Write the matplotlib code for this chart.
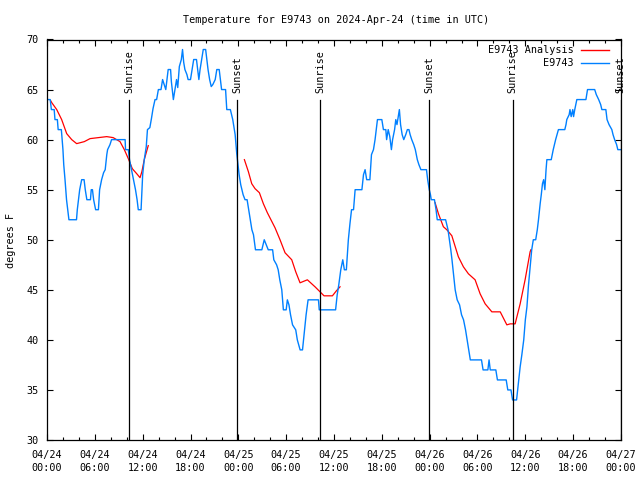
import matplotlib
matplotlib.use("Agg")
import matplotlib.pyplot as plt
import numpy as np

plt.rcParams['font.family'] = ['DejaVu Sans Mono']
FS = 7.3

# hours since 2024-04-24 00:00 UTC
obs_t = [0.0,0.4,0.55,0.9,1.0,1.3,1.4,1.8,1.9,2.0,2.1,2.26,2.45,2.6,2.75,3.7,3.8,3.95,4.1,4.35,4.65,4.8,5.0,5.45,5.55,5.7,5.85,6.1,6.45,6.6,6.85,7.1,7.3,7.5,7.6,7.9,8.1,9.8,9.85,10.2,10.35,10.6,10.85,11.1,11.3,11.45,11.8,12.0,12.2,12.45,12.6,12.9,13.1,13.3,13.55,13.75,13.97,14.3,14.5,14.7,14.9,15.2,15.5,15.6,15.85,16.05,16.25,16.4,16.6,16.85,17.0,17.15,17.3,17.55,17.7,18.0,18.2,18.4,18.75,18.9,19.05,19.2,19.4,19.6,19.9,20.05,20.2,20.4,20.6,20.8,21.1,21.3,21.6,21.75,21.9,22.4,22.55,23.0,23.3,23.6,23.8,23.95,24.1,24.3,24.6,24.84,25.1,25.3,25.5,25.7,25.9,26.15,26.95,27.1,27.25,27.5,27.75,28.3,28.45,28.8,29.0,29.2,29.45,29.65,30.0,30.15,30.35,30.55,30.8,31.2,31.4,31.75,32.05,32.3,32.5,32.75,34.05,34.15,36.2,36.4,36.6,36.85,37.1,37.3,37.55,37.8,38.0,38.2,38.45,38.65,39.5,39.7,39.9,40.1,40.5,40.7,40.95,41.15,41.45,42.0,42.2,42.5,42.6,42.8,43.0,43.2,43.35,43.6,43.75,43.9,44.2,44.35,44.55,44.75,45.0,45.2,45.4,45.55,45.75,46.0,46.2,46.45,46.65,46.9,47.6,47.75,47.95,48.1,48.2,48.6,48.8,48.95,50.0,50.3,50.65,50.8,51.0,51.2,51.45,51.75,52.0,52.25,52.5,52.7,52.9,53.1,54.5,54.7,55.3,55.45,55.6,56.3,56.5,57.6,57.8,58.2,58.3,58.4,58.9,59.1,59.35,59.56,59.8,60.0,60.2,60.4,60.6,60.8,61.0,61.3,61.5,61.65,61.86,62.0,62.15,62.3,62.45,62.6,62.7,63.25,63.5,63.8,64.15,64.95,65.1,65.2,65.5,65.6,65.75,65.95,66.05,66.2,66.46,67.6,67.8,68.7,68.9,69.2,69.45,69.6,70.1,70.25,70.5,70.85,71.0,71.2,71.45,71.6,71.95]
obs_v = [64,64,63,63,62,62,61,61,60,59,57.5,56,54,53,52,52,53,54,55,56,56,55,54,54,55,55,54,53,53,55,56,56.7,57,58.5,59,59.5,60,60,59,59,58,57,56,55,54,53,53,56.5,58,59.3,61,61.2,62.1,63.1,64,64,65,65,66,65.5,65,67,67,65.8,64,65,66,65.2,67.3,68,69,67.7,67,66.5,66,66,67,68,68,67,66,67,68,69,69,68,67,66,65.3,65.5,66,67,67,66,65,65,63,63,62,60.5,58.6,57.5,56.5,55.5,54.5,54,54,53,52,51,50.5,49,49,49.5,50,49.5,49,49,48,47.5,47,46,45,43,43,44,43.5,42.5,41.5,41,40,39,39,41,42.5,44,44,43,43,44.5,45.5,47,48,47,47,50,51.6,53,53,55,55,56.5,57,56,56,58.5,59,60,62,62,61,61,60,61,60.3,59,60,61,62,61.5,63,61.5,60.5,60,60.5,61,61,60.5,60,59.5,59,58,57.5,57,57,56,55,54.5,54,54,53,52,52,51,49,48,46.5,45,44,43.5,42.5,42,41,40,39,38,38,37,37,38,37,37,36,36,35,35,34.5,34,34,35.5,37.3,38.5,40,42,43.3,45.5,47.3,49,50,50,51,52,53.6,54.5,55.6,56,55,57,58,58,59,60,61,61,61.5,62,62.5,63,62.3,63,62.3,63,64,64,65,65,64.5,64,63.5,63,63,62,61.5,61,60.5,60,59.5,59,59]

ana1_t = [0.45,0.59,1.22,1.84,2.47,3.1,3.72,4.68,5.4,6.44,7.49,8.3,9.16,9.7,10.2,10.7,11.25,11.67,11.9,12.2,12.7]
ana1_v = [63.9,63.7,63.0,62.0,60.6,60.0,59.6,59.8,60.1,60.2,60.3,60.2,59.8,59.0,58.1,57.1,56.6,56.2,56.8,58.0,59.4]
ana2_t = [24.76,25.26,25.68,26.1,26.64,27.14,27.64,28.6,29.23,29.86,30.7,31.2,31.74,32.66,33.62,34.25,34.75,35.8,36.3,36.76]
ana2_v = [58.0,56.8,55.6,55.1,54.7,53.6,52.7,51.2,50.0,48.7,48.0,46.8,45.7,46.0,45.3,44.8,44.4,44.4,44.9,45.3]
ana3_t = [48.68,49.1,49.72,50.15,50.78,51.6,52.23,52.86,53.7,54.33,54.96,55.8,56.85,57.68,58.1,58.72,59.35,59.97,60.6,60.7]
ana3_v = [53.7,52.6,51.3,51.0,50.4,48.3,47.3,46.6,46.0,44.6,43.6,42.8,42.8,41.5,41.6,41.6,43.6,46.0,48.8,49.0]

sun_t = [10.33, 23.88, 34.3, 47.97, 58.4, 71.98]
sun_lbl = ["Sunrise", "Sunset", "Sunrise", "Sunset", "Sunrise", "Sunset"]

xtick_pos = [0, 6, 12, 18, 24, 30, 36, 42, 48, 54, 60, 66, 72]
xtick_lbl = ["04/24\n00:00", "04/24\n06:00", "04/24\n12:00", "04/24\n18:00",
             "04/25\n00:00", "04/25\n06:00", "04/25\n12:00", "04/25\n18:00",
             "04/26\n00:00", "04/26\n06:00", "04/26\n12:00", "04/26\n18:00",
             "04/27\n00:00"]

fig = plt.figure(figsize=(6.4, 4.8), dpi=100)
ax = fig.add_axes([47/640, 40/480, 574/640, 400.5/480])

RED = '#ff0000'
BLUE = '#0080ff'
for t, v in [(ana1_t, ana1_v), (ana2_t, ana2_v), (ana3_t, ana3_v)]:
    ax.plot(t, v, color=RED, lw=0.9)
ax.plot(obs_t, obs_v, color=BLUE, lw=1.0)

for t, lbl in zip(sun_t, sun_lbl):
    ax.plot([t, t], [30, 64.0], color='black', lw=0.9)
    ax.text(t, 64.7, lbl, rotation=90, ha='center', va='bottom', fontsize=FS, clip_on=False)

ax.set_xlim(0, 72)
ax.set_ylim(30, 70)
ax.set_xticks(xtick_pos)
ax.set_xticklabels(xtick_lbl, fontsize=FS, linespacing=1.35)
ax.set_xticks(np.arange(0, 73, 2), minor=True)
ax.set_yticks(np.arange(30, 71, 5))
ax.tick_params(axis='y', labelsize=FS)
ax.tick_params(which='major', direction='in', top=True, right=True, length=4, width=0.8, pad=6)
ax.tick_params(which='minor', direction='in', top=True, right=True, length=2.5, width=0.8)
ax.tick_params(axis='x', pad=7)
for s in ax.spines.values():
    s.set_linewidth(0.9)

# legend (manual, gnuplot style)
leg = [("E9743 Analysis", RED), ("E9743", BLUE)]
for i, (lbl, c) in enumerate(leg):
    y = 0.974 - i * 0.032
    ax.text(0.918, y, lbl, transform=ax.transAxes, ha='right', va='center', fontsize=FS)
    ax.plot([0.930, 0.979], [y, y], transform=ax.transAxes, color=c, lw=1.0)

fig.text(336/640, 1 - 20/480, "Temperature for E9743 on 2024-Apr-24 (time in UTC)",
         ha='center', va='center', fontsize=FS)
fig.text(11/640, 240/480, "degrees F", rotation=90, ha='center', va='center', fontsize=FS)

fig.savefig("out.png", dpi=100)
